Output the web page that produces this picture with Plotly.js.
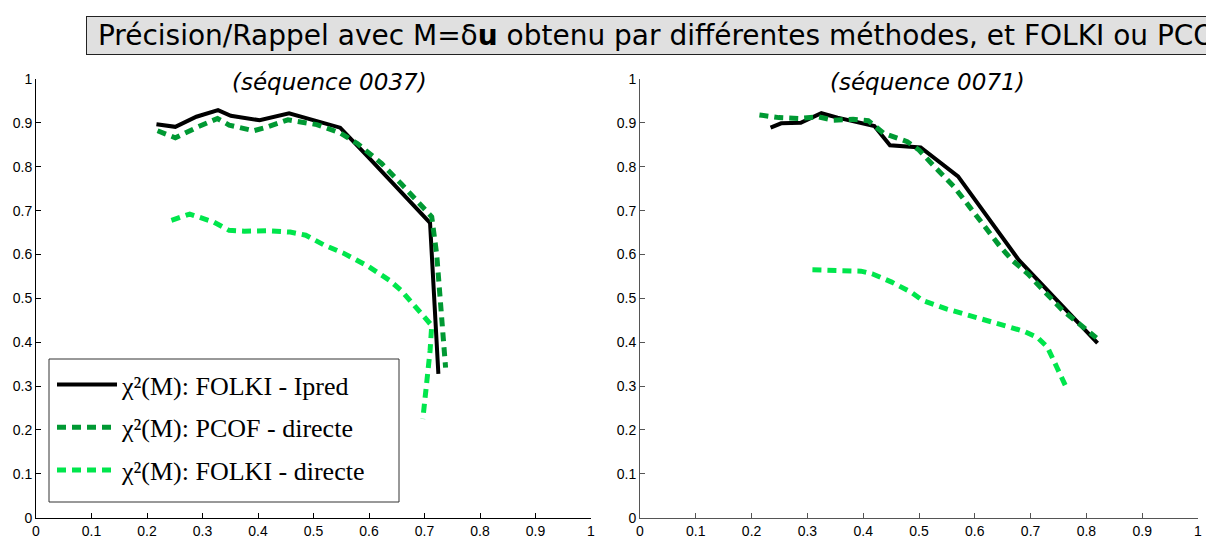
<!DOCTYPE html>
<html>
<head>
<meta charset="utf-8">
<script src="https://cdn.plot.ly/plotly-3.0.1.min.js"></script>
<style>html,body{margin:0;padding:0;background:#fff;overflow:hidden}#chart{width:1206px;height:541px}</style>
</head>
<body>
<div id="chart"></div>
<script>
// ---- data (recall, precision) ----
const seriesNames = ["χ²(M): FOLKI - Ipred", "χ²(M): PCOF - directe", "χ²(M): FOLKI - directe"];
const panelTitles = ["(séquence 0037)", "(séquence 0071)"];
const mainTitle = "\u00a0Précision/Rappel avec M=δ<b>u</b> obtenu par différentes méthodes, et FOLKI ou PCOF\u00a0";

// séquence 0037
const s37_ipred_x = [0.217, 0.251, 0.289, 0.328, 0.351, 0.403, 0.456, 0.503, 0.548, 0.600, 0.660, 0.710, 0.725];
const s37_ipred_y = [0.897, 0.891, 0.914, 0.929, 0.916, 0.906, 0.922, 0.906, 0.889, 0.820, 0.740, 0.672, 0.328];
const s37_pcof_x = [0.219, 0.251, 0.292, 0.327, 0.348, 0.392, 0.410, 0.454, 0.506, 0.548, 0.579, 0.623, 0.658, 0.692, 0.713, 0.722, 0.738];
const s37_pcof_y = [0.882, 0.866, 0.891, 0.910, 0.895, 0.882, 0.888, 0.907, 0.896, 0.877, 0.853, 0.807, 0.761, 0.716, 0.686, 0.600, 0.342];
const s37_folki_x = [0.244, 0.277, 0.320, 0.348, 0.375, 0.417, 0.458, 0.486, 0.520, 0.554, 0.596, 0.637, 0.658, 0.686, 0.713, 0.710, 0.703, 0.697];
const s37_folki_y = [0.678, 0.692, 0.674, 0.655, 0.653, 0.654, 0.651, 0.644, 0.621, 0.603, 0.575, 0.541, 0.518, 0.476, 0.438, 0.380, 0.300, 0.225];

// séquence 0071
const s71_ipred_x = [0.234, 0.253, 0.288, 0.325, 0.354, 0.382, 0.420, 0.448, 0.479, 0.503, 0.570, 0.679, 0.820];
const s71_ipred_y = [0.889, 0.899, 0.900, 0.922, 0.912, 0.903, 0.893, 0.849, 0.847, 0.844, 0.778, 0.587, 0.398];
const s71_pcof_x = [0.214, 0.249, 0.284, 0.319, 0.347, 0.382, 0.409, 0.437, 0.479, 0.500, 0.528, 0.563, 0.591, 0.618, 0.646, 0.667, 0.695, 0.723, 0.758, 0.818];
const s71_pcof_y = [0.918, 0.912, 0.910, 0.914, 0.906, 0.908, 0.905, 0.876, 0.857, 0.838, 0.800, 0.754, 0.708, 0.663, 0.617, 0.587, 0.556, 0.518, 0.472, 0.410];
const s71_folki_x = [0.309, 0.340, 0.396, 0.416, 0.451, 0.486, 0.507, 0.549, 0.591, 0.646, 0.688, 0.712, 0.730, 0.747, 0.765];
const s71_folki_y = [0.565, 0.564, 0.562, 0.556, 0.537, 0.514, 0.495, 0.476, 0.461, 0.440, 0.425, 0.411, 0.389, 0.343, 0.294];

const colors = ["#000000", "#009933", "#00e64c"];
const widths = [4, 5, 5];
const dashes = ["solid", "9px,6px", "9px,6px"];

const panels = [
  {xa: "x", ya: "y", data: [[s37_ipred_x, s37_ipred_y], [s37_pcof_x, s37_pcof_y], [s37_folki_x, s37_folki_y]], legend: true},
  {xa: "x2", ya: "y2", data: [[s71_ipred_x, s71_ipred_y], [s71_pcof_x, s71_pcof_y], [s71_folki_x, s71_folki_y]], legend: false}
];

const traces = [];
panels.forEach(p => {
  p.data.forEach((d, i) => {
    traces.push({
      x: d[0], y: d[1], xaxis: p.xa, yaxis: p.ya, type: "scatter", mode: "lines",
      name: seriesNames[i], legendgroup: "g" + i, showlegend: p.legend,
      line: {color: colors[i], width: widths[i], dash: dashes[i], shape: "linear"},
      hoverinfo: "skip"
    });
  });
});

function axis(domain, col) {
  return {
    domain: domain, range: [0, 1], dtick: 0.1, tick0: 0,
    showgrid: false, zeroline: false, showline: true, linecolor: col, linewidth: 1,
    ticks: "inside", ticklen: 5, tickcolor: col, tickwidth: 1,
    tickfont: {family: "Liberation Sans, Arial, sans-serif", size: 14, color: "#000"},
    fixedrange: true
  };
}
const yd = [1 - 517.7 / 541, 1 - 79 / 541];

const layout = {
  width: 1206, height: 541,
  margin: {l: 0, r: 0, t: 0, b: 0},
  paper_bgcolor: "#ffffff", plot_bgcolor: "#ffffff",
  showlegend: true,
  xaxis: Object.assign(axis([36 / 1206, 591 / 1206], "#000"), {anchor: "y"}),
  yaxis: Object.assign(axis(yd, "#000"), {anchor: "x"}),
  xaxis2: Object.assign(axis([640 / 1206, 1198 / 1206], "#555"), {anchor: "y2"}),
  yaxis2: Object.assign(axis(yd, "#555"), {anchor: "x2"}),
  legend: {
    x: 52 / 1206, y: 1 - 494 / 541, xanchor: "left", yanchor: "bottom",
    bgcolor: "rgba(255,255,255,0)", borderwidth: 0,
    font: {family: "Liberation Serif, Times New Roman, serif", size: 26, color: "#000"},
    traceorder: "grouped", tracegroupgap: 6, itemwidth: 60
  },
  shapes: [
    {type: "rect", xref: "paper", yref: "paper", x0: 49 / 1206, x1: 399 / 1206, y0: 1 - 502 / 541, y1: 1 - 359 / 541,
     line: {color: "#333", width: 1}, fillcolor: "#ffffff", layer: "below"}
  ],
  annotations: [
    {text: mainTitle, xref: "paper", yref: "paper", x: 86 / 1206, y: 1 - 36 / 541, xanchor: "left", yanchor: "middle",
     showarrow: false, font: {family: "DejaVu Sans", size: 28, color: "#000"}, bgcolor: "#e0e0e0",
     bordercolor: "#222", borderwidth: 1, borderpad: 2, align: "left"},
    {text: "<i>" + panelTitles[0] + "</i>", xref: "paper", yref: "paper", x: 330 / 1206, y: 1 - 82 / 541,
     xanchor: "center", yanchor: "middle", showarrow: false, font: {family: "DejaVu Sans", size: 23, color: "#000"}},
    {text: "<i>" + panelTitles[1] + "</i>", xref: "paper", yref: "paper", x: 927 / 1206, y: 1 - 82 / 541,
     xanchor: "center", yanchor: "middle", showarrow: false, font: {family: "DejaVu Sans", size: 23, color: "#000"}}
  ]
};

Plotly.newPlot("chart", traces, layout, {displayModeBar: false, staticPlot: true});
</script>
</body>
</html>
